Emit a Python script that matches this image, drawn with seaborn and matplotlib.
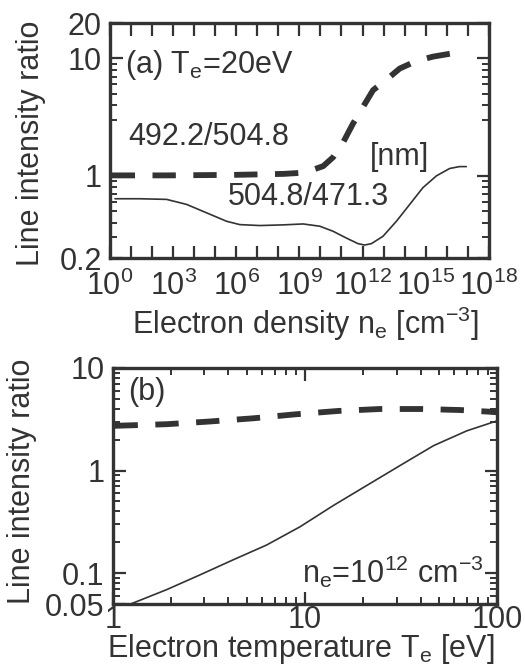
import numpy as np
import pandas as pd
import seaborn as sns
import matplotlib
matplotlib.use("Agg")
import matplotlib.pyplot as plt
from matplotlib.ticker import FixedLocator, FuncFormatter, NullFormatter

# panel (a): ratio vs electron density, Te = 20 eV
ne_exp_dash = [0.08, 2.69, 5.85, 8.23, 9.02, 9.65, 10.13, 10.6, 11.08, 11.55,
               12.03, 12.5, 13.13, 13.77, 14.56, 15.35, 16.22]
ratio_4922_5048 = [1.01, 1.01, 1.02, 1.04, 1.06, 1.13, 1.21, 1.44, 1.93, 2.79,
                   3.88, 5.36, 6.58, 8.2, 9.5, 10.35, 11.0]
ne_exp_solid = [0.24, 1.42, 2.69, 3.64, 4.59, 5.54, 6.17, 7.12, 8.23, 9.18,
                9.97, 10.6, 11.23, 11.79, 12.1, 12.42, 12.97, 13.61, 14.24,
                14.87, 15.51, 16.14, 16.61, 16.93]
ratio_5048_4713 = [0.639, 0.639, 0.631, 0.572, 0.485, 0.411, 0.385, 0.378,
                   0.383, 0.39, 0.373, 0.338, 0.296, 0.265, 0.258, 0.265,
                   0.306, 0.411, 0.571, 0.794, 1.0, 1.156, 1.2, 1.2]

# panel (b): ratio vs electron temperature, ne = 1e12 cm^-3
te_dash = [1.02, 1.9, 3.13, 5.37, 8.87, 14.9, 24.5, 40.7, 64.6, 90.6, 100]
ratio_b_dash = [2.73, 2.83, 3.0, 3.23, 3.53, 3.81, 3.98, 3.98, 3.89, 3.75, 3.7]
te_solid = [1.0, 1.25, 1.9, 2.83, 4.23, 6.31, 9.42, 14.1, 21.0, 31.3, 46.8, 69.7, 100]
ratio_b_solid = [0.0429, 0.0505, 0.069, 0.096, 0.135, 0.188, 0.283, 0.458,
                 0.716, 1.12, 1.75, 2.44, 3.05]

# tick labels
yticks_a = [0.2, 1, 10, 20]
xticks_b = [1, 10, 100]
yticks_b = [0.05, 0.1, 1, 10]

ink = "#333333"
fs = 22

sns.set_theme(style="ticks")
plt.rcParams.update({
    "font.family": ["Liberation Sans", "DejaVu Sans"],
    "mathtext.default": "regular",
    "text.color": ink,
    "axes.labelcolor": ink,
    "axes.edgecolor": ink,
    "axes.axisbelow": False,
    "xtick.color": ink,
    "ytick.color": ink,
    "xtick.direction": "in",
    "ytick.direction": "in",
    "xtick.major.size": 9,
    "ytick.major.size": 9,
    "xtick.major.width": 1.6,
    "ytick.major.width": 1.6,
})

df_a_dash = pd.DataFrame({"ne": 10.0 ** np.array(ne_exp_dash), "ratio": ratio_4922_5048})
df_a_solid = pd.DataFrame({"ne": 10.0 ** np.array(ne_exp_solid), "ratio": ratio_5048_4713})
df_b_dash = pd.DataFrame({"te": te_dash, "ratio": ratio_b_dash})
df_b_solid = pd.DataFrame({"te": te_solid, "ratio": ratio_b_solid})


def fmt_g(v, p):
    return "%g" % v


def fmt_pow(v, p):
    k = int(round(np.log10(v)))
    return "10$^{%d}$" % k if k % 3 == 0 else ""


fig = plt.figure(figsize=(5.25, 6.69), dpi=100)
ax1 = fig.add_axes([0.2095, 0.6143, 0.7215, 0.3513])
ax2 = fig.add_axes([0.215, 0.097, 0.7315, 0.353])
for ax in (ax1, ax2):
    ax.set_xscale("log")
    ax.set_yscale("log")

sns.lineplot(data=df_a_dash, x="ne", y="ratio", ax=ax1, color=ink, lw=4.2,
             estimator=None, sort=False)
ax1.lines[-1].set_dashes([4, 3])
sns.lineplot(data=df_a_solid, x="ne", y="ratio", ax=ax1, color=ink, lw=1.2,
             estimator=None, sort=False)
sns.lineplot(data=df_b_dash, x="te", y="ratio", ax=ax2, color=ink, lw=4.2,
             estimator=None, sort=False)
ax2.lines[-1].set_dashes([4, 3])
sns.lineplot(data=df_b_solid, x="te", y="ratio", ax=ax2, color=ink, lw=1.2,
             estimator=None, sort=False)

# axes (a)
ax1.set_xlim(1, 1e18)
ax1.set_ylim(0.2, 20)
ax1.xaxis.set_major_locator(FixedLocator([10.0 ** k for k in range(19)]))
ax1.xaxis.set_major_formatter(FuncFormatter(fmt_pow))
ax1.yaxis.set_major_locator(FixedLocator(yticks_a))
ax1.yaxis.set_major_formatter(FuncFormatter(fmt_g))
ax1.yaxis.set_minor_locator(FixedLocator(
    [m * 10.0 ** e for e in (-1, 0) for m in range(3, 10)]))
ax1.yaxis.set_minor_formatter(NullFormatter())

# axes (b)
ax2.set_xlim(1, 100)
ax2.set_ylim(0.05, 10)
ax2.xaxis.set_major_locator(FixedLocator(xticks_b))
ax2.xaxis.set_major_formatter(FuncFormatter(fmt_g))
ax2.yaxis.set_major_locator(FixedLocator(yticks_b))
ax2.yaxis.set_major_formatter(FuncFormatter(fmt_g))
ax2.xaxis.set_minor_locator(FixedLocator(
    [m * 10.0 ** e for e in (0, 1) for m in range(2, 10)]))
ax2.xaxis.set_minor_formatter(NullFormatter())
ax2.yaxis.set_minor_locator(FixedLocator(
    [m * 10.0 ** e for e in (-2, -1, 0) for m in range(2, 10)
     if 0.05 < m * 10.0 ** e < 10]))
ax2.yaxis.set_minor_formatter(NullFormatter())

ax1.set_xlabel("Electron density n$_e$ [cm$^{-3}$]", fontsize=fs)
ax1.set_ylabel("Line intensity ratio", fontsize=fs)
ax2.set_xlabel("Electron temperature T$_e$ [eV]", fontsize=fs)
ax2.set_ylabel("Line intensity ratio", fontsize=fs)
ax1.xaxis.set_label_coords(0.517, -0.2)
ax1.yaxis.set_label_coords(-0.17, 0.49)
ax2.xaxis.set_label_coords(0.49, -0.118)
ax2.yaxis.set_label_coords(-0.198, 0.52)

ax1.text(0.04, 0.82, "(a) T$_e$=20eV", transform=ax1.transAxes,
         fontsize=fs, va="center", ha="left")
ax1.text(0.048, 0.515, "492.2/504.8", transform=ax1.transAxes,
         fontsize=fs, va="center", ha="left")
ax1.text(0.686, 0.43, "[nm]", transform=ax1.transAxes, fontsize=fs,
         va="center", ha="left")
ax1.text(0.311, 0.26, "504.8/471.3", transform=ax1.transAxes,
         fontsize=fs, va="center", ha="left")
ax2.text(0.04, 0.9, "(b)", transform=ax2.transAxes, fontsize=fs,
         va="center", ha="left")
ax2.text(0.964, 0.135, "n$_e$=10$^{12}$ cm$^{-3}$",
         transform=ax2.transAxes, fontsize=fs, va="center", ha="right")

for ax in (ax1, ax2):
    ax.tick_params(which="both", direction="in", top=True, right=True,
                   bottom=True, left=True, labelsize=fs, pad=6)
    ax.tick_params(which="minor", length=5, width=1.4)
    for s in ax.spines.values():
        s.set_linewidth(2.4)
ax1.tick_params(axis="x", which="major", pad=9)
ax2.tick_params(axis="x", which="major", pad=1)

fig.savefig("out.png", dpi=100)
